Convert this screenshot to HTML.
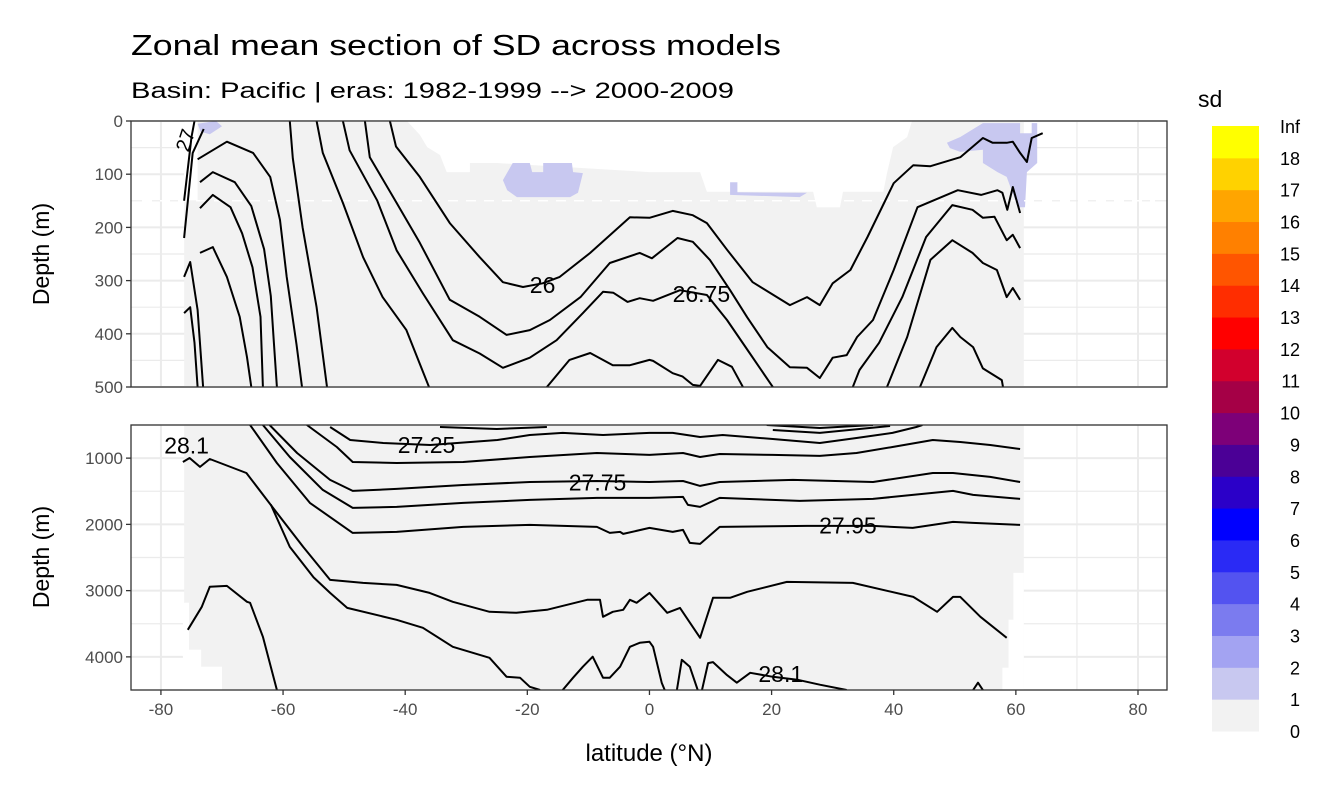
<!DOCTYPE html>
<html><head><meta charset="utf-8"><style>
body{margin:0;background:#fff}
svg text{font-family:"Liberation Sans",sans-serif}
</style></head><body>
<svg id="chart" width="1344" height="806" viewBox="0 0 1344 806" xmlns="http://www.w3.org/2000/svg">
<text x="131" y="55" font-size="29" fill="#000" textLength="650" lengthAdjust="spacingAndGlyphs">Zonal mean section of SD across models</text>
<text x="131" y="98" font-size="22" fill="#000" textLength="603" lengthAdjust="spacingAndGlyphs">Basin: Pacific | eras: 1982-1999 --&gt; 2000-2009</text>
<g id="top"></g>
<g id="bot"></g>
<g id="xaxis"></g>
<text x="649" y="761" font-size="24" text-anchor="middle" fill="#000">latitude (°N)</text>
<text transform="translate(49,254) rotate(-90)" font-size="23" text-anchor="middle" fill="#000">Depth (m)</text>
<text transform="translate(49,557) rotate(-90)" font-size="23" text-anchor="middle" fill="#000">Depth (m)</text>
<g id="legend"></g>
</svg>
<script>
// ---- data ----
const xTicks = [-80,-60,-40,-20,0,20,40,60,80];
const xMinor = [-70,-50,-30,-10,10,30,50,70];
const topTicks = [0,100,200,300,400,500];
const topMinor = [50,150,250,350,450];
const botTicks = [1000,2000,3000,4000];
const botMinor = [500,1500,2500,3500,4500];
const legendBreaks = ["0","1","2","3","4","5","6","7","8","9","10","11","12","13","14","15","16","17","18","Inf"];
const legendColors = ["#f2f2f2","#c8c8f0","#a3a3f2","#7b7bef","#5353f0","#2a2af5","#0000ff","#2b00c8","#4b0096","#7d0078","#a50046","#d2002d","#ff0000","#ff2d00","#ff5500","#ff8000","#ffa500","#ffd200","#ffff00"];
const topDataExtent = [-76.2, 61.3];
const topNoData = [[-39.7,0],[-37.6,26],[-36.4,49],[-34.3,64],[-33.2,96],[-29.4,96],[-29.4,79],[-25,79],[0,96],[8.3,96],[9.4,133],[13.2,133],[26.8,133],[27.4,162],[31.2,162],[31.7,133],[38.3,133],[38.9,98],[39.9,49],[42.2,30],[43,0]];
const topNoDataLeft = [[-76.2,0],[-76.2,149],[-74,149],[-74,0]];
const sdPatch1 = [[-24,111],[-22.4,79],[-19.6,79],[-19.2,96],[-17.4,96],[-17.4,79],[-12.7,79],[-12.5,96],[-10.9,98],[-11.7,135],[-13,143],[-21.7,143],[-23.3,130]];
const sdPatch2 = [[13.2,115],[14.4,115],[14.4,134],[25.8,135],[24.6,143],[13.2,139]];
const sdPatch3 = [[48.7,41],[50.9,30],[54.6,4],[60.7,4],[60.7,23],[62.6,23],[62.6,4],[63.5,4],[63.5,79],[61.8,96],[61.5,162],[60.3,162],[58.5,105],[57,96],[54.6,79],[54.6,54],[50.9,58],[49.2,51]];
const sdPatch4 = [[-74,5],[-71,0],[-70,10],[-72,25],[-73.5,20]];
const topContours = [
 [[-42.5,0],[-41.5,48],[-37.6,105],[-32.7,192],[-27.8,256],[-24,303],[-20.7,312],[-17.5,305],[-14.7,293],[-9.7,248],[-3.2,181],[0,182],[3.8,169],[7.1,177],[9.4,192],[12.7,242],[16.9,303],[23,346],[25.8,331],[27.9,346],[30,305],[32.9,280],[35.7,218],[40,117],[43.2,83],[46,85],[50.9,68],[54.6,32],[56.2,41],[58.5,41],[59.5,39],[60.7,60],[61.8,77],[62.6,32],[64.4,23]],
 [[-46.6,0],[-45.8,68],[-41.4,154],[-37.6,229],[-32.7,336],[-27.8,368],[-23.4,402],[-19.6,393],[-16.3,374],[-11.3,331],[-6.5,267],[-1.6,248],[0.4,258],[4.6,220],[7.1,227],[9.9,261],[13.2,318],[16,369],[19.3,425],[23,463],[25.8,464],[27.9,483],[30,445],[32.3,440],[34,406],[36.6,374],[40,280],[43.9,162],[50.5,130],[54.3,139],[57,130],[57.8,135],[58.6,167],[59.5,124],[60.7,173]],
 [[-50.2,0],[-49.1,55],[-44.6,149],[-41.4,243],[-37.1,324],[-32.2,412],[-27.8,437],[-24,464],[-19.6,445],[-15.2,412],[-10.9,361],[-7.6,321],[-5.9,323],[-3.6,340],[-1.6,333],[0.6,338],[5,318],[9.4,327],[12.7,374],[16.4,436],[20.2,500]],
 [[33.3,500],[34.4,468],[37.6,417],[41.4,331],[45.3,218],[49.6,158],[52.9,167],[54.6,182],[56.5,180],[58.5,224],[59.5,214],[60.7,239]],
 [[-54.5,0],[-53.5,60],[-50.2,154],[-46.9,256],[-43.7,331],[-39.8,393],[-36.1,500]],
 [[-16.8,500],[-13.1,449],[-9.7,436],[-6,459],[-3.2,459],[0,449],[0.6,451],[3.8,474],[5.4,480],[7.1,496],[8.3,498],[11.2,449],[13.5,462],[15.3,500]],
 [[38.9,500],[42.2,406],[46,261],[49.6,224],[52.9,248],[54.6,267],[56.9,280],[58.5,331],[59.5,314],[60.7,336]],
 [[44.3,500],[47,425],[49.6,389],[50.9,406],[53,425],[54.6,465],[57.7,487],[57.9,500]],
 [[-58.9,0],[-58.4,70],[-56.8,200],[-54.5,350],[-52.8,500]],
 [[-74,72],[-69.2,39],[-64.9,60],[-62.1,105],[-60.5,186],[-59.4,293],[-57.8,420],[-56.9,500]],
 [[-73.6,115],[-71.5,96],[-67.9,115],[-65.2,160],[-63.1,241],[-62,329],[-61.5,417],[-61,500]],
 [[-73.6,164],[-71.5,139],[-68.6,162],[-66.7,211],[-65,275],[-63.7,368],[-63.3,500]],
 [[-73.6,248],[-71.5,237],[-69.2,293],[-67.1,368],[-65.9,444],[-65.2,500]],
 [[-76.2,293],[-75.2,265],[-74,355],[-73.1,500]],
 [[-76.2,361],[-75.2,350],[-74.5,417],[-74,500]],
 [[-76.2,150],[-75,30],[-74.5,0]],
 [[-76.2,220],[-74.8,60],[-73,15]]
];
const topLabels = [[-17.5,308,"26"],[8.5,325,"26.75"]];
const botNoData = [[-76.4,3184],[-75.4,3184],[-75.4,3893],[-73.4,3893],[-73.4,4149],[-70,4149],[-70,4500],[-76.4,4500]];
const botNoDataRight = [[61.3,2732],[59.6,2732],[59.6,3441],[58.8,3441],[58.8,4164],[57.8,4164],[57.8,4500],[61.3,4500]];
const botContours = [
 [[-34.3,530],[-25,560],[-16.8,530]],
 [[19.2,500],[27.9,545],[36.6,500]],
 [[20.2,575],[27.9,620],[39.4,515]],
 [[-52.3,530],[-49,726],[-43.6,771],[-35.9,802],[-24.9,726],[-19.6,651],[-14.2,620],[-7.6,651],[0,620],[3.8,620],[8.3,681],[12,651],[20.2,711],[27.9,771],[33.9,696],[39.8,620],[43.7,530],[44.7,500]],
 [[-56.1,500],[-51.2,832],[-48.6,1058],[-41.4,1073],[-30.5,1058],[-19.6,983],[-8.6,922],[0,952],[5.5,922],[8.3,983],[11.5,937],[20.2,952],[27.9,967],[33.9,922],[39.8,832],[46.4,726],[50.9,756],[55.8,802],[60.7,862]],
 [[-62.2,500],[-57.7,922],[-52.3,1329],[-48.6,1495],[-41.4,1465],[-30.5,1405],[-19.6,1360],[-8.6,1345],[0,1360],[5.5,1345],[8.3,1420],[11.5,1360],[23.5,1329],[36.6,1360],[46.4,1224],[49.7,1224],[55.8,1284],[60.7,1360]],
 [[-63.3,500],[-58.9,983],[-53.5,1480],[-48.6,1752],[-41.4,1736],[-30.5,1676],[-19.6,1631],[-8.6,1601],[0,1601],[5.5,1586],[6.3,1706],[8.3,1736],[11.5,1601],[24.6,1646],[36.6,1616],[43.1,1555],[49.7,1495],[53,1555],[60.7,1616]],
 [[-65.4,500],[-61,1073],[-55.6,1676],[-48.6,2129],[-41.4,2113],[-30.5,2038],[-19.6,2008],[-8.6,2038],[-6.5,2129],[-4.8,2113],[-4.3,2144],[0,2053],[3.8,2113],[5.5,2083],[6.6,2279],[8.3,2294],[11.5,2038],[25.8,2023],[36.6,2023],[43.1,2053],[49.7,1962],[53,1977],[60.7,2008]],
 [[-76.4,1058],[-75.3,998],[-73.6,1133],[-72,1013],[-66,1224],[-61,1827],[-56.7,2340],[-52.3,2838],[-46.9,2883],[-41.4,2913],[-36,3034],[-32.2,3169],[-26.2,3320],[-21.8,3335],[-16.8,3290],[-10.2,3139],[-8.1,3139],[-7.6,3395],[-6,3320],[-4.3,3290],[-3.2,3139],[-2.1,3184],[0,3034],[0.6,3094],[2.9,3335],[5,3260],[8.3,3712],[10.4,3109],[13.2,3109],[16,3018],[22.5,2868],[33.3,2883],[43.2,3094],[47.1,3320],[49.7,3094],[50.9,3094],[54.2,3395],[58.5,3712]],
 [[-62,1700],[-58.9,2340],[-55,2800],[-52.3,3034],[-49.5,3260],[-41.4,3441],[-37.1,3561],[-32.2,3848],[-26.2,4014],[-23.4,4300],[-21.2,4315],[-19.6,4451],[-17.9,4500]],
 [[-14.2,4500],[-12.5,4315],[-10.9,4149],[-9.3,3998],[-7.6,4315],[-6.5,4315],[-4.8,4149],[-3.2,3848],[-1.6,3787],[0,3772],[0.6,3848],[2,4390],[2.5,4500]],
 [[4.5,4500],[5.3,4044],[6.6,4149],[7.9,4500]],
 [[8.6,4500],[9.6,4094],[10.4,4079],[12.7,4275],[14.3,4390],[16.5,4240],[20.2,4300],[24.2,4345],[27.9,4420],[32.3,4500]],
 [[53,4500],[53.8,4390],[54.6,4500]],
 [[-75.6,3591],[-73.3,3244],[-72,2943],[-69.2,2928],[-65.9,3169],[-65.4,3184],[-63.3,3697],[-61,4500]]
];
const botLabels = [[-75.8,810,"28.1"],[-36.5,800,"27.25"],[-8.5,1370,"27.75"],[32.5,2020,"27.95"],[21.5,4260,"28.1"]];

// ---- scales ----
const X0=131, X1=1167;
const latMin=-84.9, latMax=84.75;
function sx(lat){return X0+(lat-latMin)/(latMax-latMin)*(X1-X0);}
const T0=121, T1=387, B0=425, B1=690;
function syTop(d){return T0+(d-0)/(500-0)*(T1-T0);}
function syBot(d){return B0+(d-500)/(4500-500)*(B1-B0);}
const NS='http://www.w3.org/2000/svg';
function mk(tag,attrs,parent){const e=document.createElementNS(NS,tag);for(const k in attrs)e.setAttribute(k,attrs[k]);parent.appendChild(e);return e;}
function pts(arr,sy){return arr.map(p=>sx(p[0]).toFixed(1)+','+sy(p[1]).toFixed(1)).join(' ');}

function panel(g,yTop,yBot,sy,ticks,minor,dmin,dmax,name){
  const bg=mk('rect',{x:X0,y:yTop,width:X1-X0,height:yBot-yTop,fill:'#fff'},g);
  
  
  minor.forEach(v=>{const l=mk('line',{x1:X0,x2:X1,y1:sy(v),y2:sy(v),stroke:'#ebebeb','stroke-width':1.2},g);
    });
  ticks.forEach(v=>{const l=mk('line',{x1:X0,x2:X1,y1:sy(v),y2:sy(v),stroke:'#ebebeb','stroke-width':2},g);
    });
  xMinor.forEach(v=>{const l=mk('line',{x1:sx(v),x2:sx(v),y1:yTop,y2:yBot,stroke:'#ebebeb','stroke-width':1.2},g);
    });
  xTicks.forEach(v=>{const l=mk('line',{x1:sx(v),x2:sx(v),y1:yTop,y2:yBot,stroke:'#ebebeb','stroke-width':2},g);
    });
}
const clipDefs=mk('defs',{},document.getElementById('chart'));
[['clipTop',T0,T1],['clipBot',B0,B1]].forEach(c=>{const cp=mk('clipPath',{id:c[0]},clipDefs);mk('rect',{x:X0,y:c[1],width:X1-X0,height:c[2]-c[1]},cp);});

// top panel
const gt=document.getElementById('top');
panel(gt,T0,T1,syTop,topTicks,topMinor,0,500,'top-panel');
const gtc=mk('g',{'clip-path':'url(#clipTop)'},gt);
let r=mk('rect',{x:sx(topDataExtent[0]),y:T0,width:sx(topDataExtent[1])-sx(topDataExtent[0]),height:T1-T0,fill:'#f2f2f2'},gtc);

[topNoData,topNoDataLeft].forEach(a=>{const p=mk('polygon',{points:pts(a,syTop),fill:'#fff'},gtc);
  });
// restore grid in no-data
[sdPatch1,sdPatch2,sdPatch3,sdPatch4].forEach(a=>{const p=mk('polygon',{points:pts(a,syTop),fill:legendColors[1]},gtc);
  });
let dl=mk('line',{x1:142,x2:1155,y1:syTop(150),y2:syTop(150),stroke:'#fff','stroke-width':1.5,'stroke-dasharray':'10,8'},gtc);

topContours.forEach(c=>{const l=mk('polyline',{points:pts(c,syTop),fill:'none',stroke:'#000','stroke-width':2,'stroke-linejoin':'round'},gtc);
  });
topLabels.forEach(t=>{const e=mk('text',{x:sx(t[0]),y:syTop(t[1])+8,'font-size':23,'text-anchor':'middle',fill:'#000'},gtc);e.textContent=t[2];
  });
let rl=mk('text',{transform:'translate('+(sx(-75.5))+','+syTop(60)+') rotate(-72)','font-size':20,fill:'#000'},gtc);rl.textContent='27';

let fr=mk('rect',{x:X0,y:T0,width:X1-X0,height:T1-T0,fill:'none',stroke:'#333','stroke-width':1.3},gt);

topTicks.forEach(v=>{const y=syTop(v);mk('line',{x1:X0-5,x2:X0,y1:y,y2:y,stroke:'#333','stroke-width':1.3},gt);
  const t=mk('text',{x:X0-8,y:y+6,'font-size':17,'text-anchor':'end',fill:'#4d4d4d'},gt);t.textContent=v;
  });

// bottom panel
const gb=document.getElementById('bot');
panel(gb,B0,B1,syBot,botTicks,botMinor,500,4500,'bottom-panel');
const gbc=mk('g',{'clip-path':'url(#clipBot)'},gb);
r=mk('rect',{x:sx(topDataExtent[0]),y:B0,width:sx(topDataExtent[1])-sx(topDataExtent[0]),height:B1-B0,fill:'#f2f2f2'},gbc);

[botNoData,botNoDataRight].forEach(a=>{const p=mk('polygon',{points:pts(a,syBot),fill:'#fff'},gbc);
  });
botContours.forEach(c=>{const l=mk('polyline',{points:pts(c,syBot),fill:'none',stroke:'#000','stroke-width':2,'stroke-linejoin':'round'},gbc);
  });
botLabels.forEach(t=>{const e=mk('text',{x:sx(t[0]),y:syBot(t[1])+8,'font-size':23,'text-anchor':'middle',fill:'#000'},gbc);e.textContent=t[2];
  });
fr=mk('rect',{x:X0,y:B0,width:X1-X0,height:B1-B0,fill:'none',stroke:'#333','stroke-width':1.3},gb);

botTicks.forEach(v=>{const y=syBot(v);mk('line',{x1:X0-5,x2:X0,y1:y,y2:y,stroke:'#333','stroke-width':1.3},gb);
  const t=mk('text',{x:X0-8,y:y+6,'font-size':17,'text-anchor':'end',fill:'#4d4d4d'},gb);t.textContent=v;
  });

// x axis
const gx=document.getElementById('xaxis');
xTicks.forEach(v=>{const x=sx(v);mk('line',{x1:x,x2:x,y1:B1,y2:B1+5,stroke:'#333','stroke-width':1.3},gx);
  const t=mk('text',{x:x,y:B1+25,'font-size':17,'text-anchor':'middle',fill:'#4d4d4d'},gx);t.textContent=v;
  });

// legend
const gl=document.getElementById('legend');
let lt=mk('text',{x:1198,y:107,'font-size':23,fill:'#000'},gl);lt.textContent='sd';

const LT=126, LB=731, step=(LB-LT)/legendColors.length;
legendColors.forEach((c,i)=>{const y=LB-(i+1)*step;
  const b=mk('rect',{x:1212,y:y,width:47,height:step+0.5,fill:c},gl);
  });
legendBreaks.forEach((s,i)=>{const y=LB-i*step;
  const t=mk('text',{x:1300,y:y+7,'font-size':18,'text-anchor':'end',fill:'#000'},gl);t.textContent=s;
  });
</script>
</body></html>
